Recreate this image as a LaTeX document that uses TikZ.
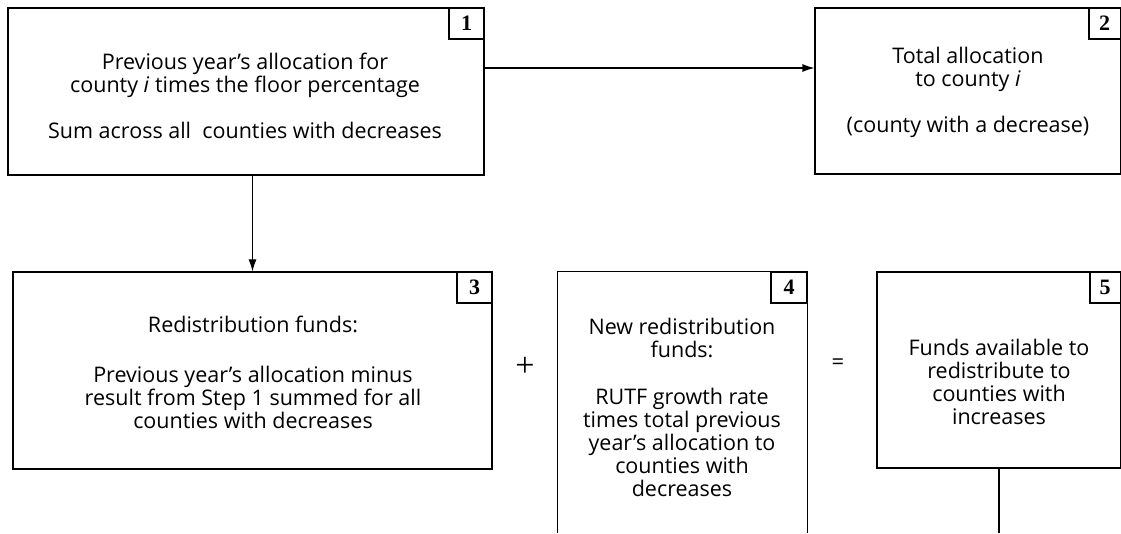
\documentclass[tikz,border=0pt]{standalone}
\usepackage{fontspec}
\setmainfont{Open Sans}
\newfontfamily\numfont{Liberation Serif}
\usetikzlibrary{arrows.meta,fit}
\begin{document}
\begin{tikzpicture}[x=1pt,y=1pt,
  box/.style={draw, line width=1.1pt, inner sep=0pt},
  frame/.style={inner sep=0pt},
  numbox/.style={draw, line width=1.1pt, inner sep=0pt},
  numtxt/.style={inner sep=0pt, font=\numfont\bfseries\fontsize{22}{22}\selectfont},
  txt/.style={anchor=north, inner sep=0pt, align=center, font=\fontsize{21.5}{23}\selectfont},
  sign/.style={inner sep=0pt},
  conn/.style={line width=1.1pt},
  arr/.style={conn, -{Latex[length=12pt,width=8pt]}}]
\useasboundingbox (0,0) rectangle (1121,533);
% boxes
\node[box, fit={(8,358) (484,525)}] (b1) {};
\node[box, fit={(815,359) (1120.4,525)}] (b2) {};
\node[box, fit={(13,64) (492,261)}] (b3) {};
\node[frame, fit={(558,0) (807,261)}] (b4) {};
\draw[conn] (b4.south west) |- (b4.north east) -- (b4.south east);
\node[box, fit={(877,65) (1120.4,261)}] (b5) {};
% number boxes
\node[numbox, fit={(449,494) (484,525)}] (n1) {};
\node[numtxt] at (n1.center) {1};
\node[numbox, fit={(1089,494) (1120.4,525)}] (n2) {};
\node[numtxt] at (n2.center) {2};
\node[numbox, fit={(457,230) (492,261)}] (n3) {};
\node[numtxt] at (n3.center) {3};
\node[numbox, fit={(771,230) (807,261)}] (n4) {};
\node[numtxt] at (n4.center) {4};
\node[numbox, fit={(1090,230) (1120.4,261)}] (n5) {};
\node[numtxt] at (n5.center) {5};
% texts
\node[txt] (t1) at (245,480) {Previous year’s allocation for\\ county \textit{i} times the floor percentage\\[23pt] Sum across all\ \ counties with decreases};
\node[txt] (t2) at (968,486) {Total allocation\\ to county \textit{i}\\[23pt] (county with a decrease)};
\node[txt] (t3) at (253,217) {Redistribution funds:\\[27pt] Previous year’s allocation minus\\ result from Step 1 summed for all\\ counties with decreases};
\node[txt] (t4) at (682,215) {New redistribution\\ funds:\\[24pt] RUTF growth rate\\ times total previous\\ year’s allocation to\\ counties with\\ decreases};
\node[txt] (t5) at (999,194) {Funds available to\\ redistribute to\\ counties with\\ increases};
% signs
\node[sign, font=\numfont\fontsize{34}{34}\selectfont] (plus) at (525,166) {+};
\node[sign, font=\fontsize{22}{22}\selectfont] (eq) at (838,169) {=};
% connectors
\coordinate (a12) at (0,465);
\draw[arr] (b1.east |- a12) -- (b2.west |- a12);
\draw[arr] (b3.north |- b1.south) -- (b3.north);
\coordinate (e5) at (999,0);
\draw[conn] (e5 |- b5.south) -- (e5);
\end{tikzpicture}
\end{document}
